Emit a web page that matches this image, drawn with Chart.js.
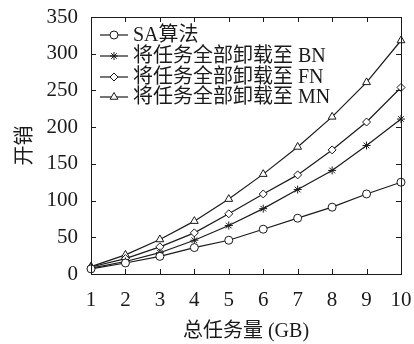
<!DOCTYPE html>
<html>
<head>
<meta charset="utf-8">
<script src="https://cdn.jsdelivr.net/npm/chart.js@4.4.0/dist/chart.umd.min.js"></script>
<style>
  html, body { margin: 0; padding: 0; background: #fff; }
  #wrap { width: 414px; height: 344px; }
</style>
</head>
<body>
<div id="wrap"><canvas id="c" width="414" height="344"></canvas></div>
<script>
// 数据
const taskSizes = [1, 2, 3, 4, 5, 6, 7, 8, 9, 10]
const saCost = [7, 15, 24, 36, 46, 61, 76, 91, 109, 125]
const bnCost = [8, 17, 29, 46, 66, 89, 115, 141, 175, 211]
const fnCost = [9.5, 21, 37, 56, 82, 109, 135, 169, 207, 254]
const mnCost = [10, 26, 47, 72, 102, 136, 173, 214, 261, 318]
const seriesNames = ["SA算法", "将任务全部卸载至 BN", "将任务全部卸载至 FN", "将任务全部卸载至 MN"]
const yTicks = [0, 50, 100, 150, 200, 250, 300, 350]

const FONT = "'Liberation Serif', 'DejaVu Serif', 'Noto Sans CJK SC', serif"
const INK = "#1a1a1a"

const markers = [
  { pointStyle: "circle", radius: 4, fill: "#fff" },
  { pointStyle: "star", radius: 4, fill: INK },
  { pointStyle: "rectRot", radius: 4, fill: "#fff" },
  { pointStyle: "triangle", radius: 4.5, fill: "#fff" },
]

const allSeries = [saCost, bnCost, fnCost, mnCost]

const datasets = allSeries.map((values, i) => ({
  label: seriesNames[i],
  data: values,
  borderColor: INK,
  borderWidth: 1.2,
  backgroundColor: markers[i].fill,
  pointStyle: markers[i].pointStyle,
  pointRadius: markers[i].radius,
  pointBorderWidth: 1,
  pointBorderColor: INK,
  pointBackgroundColor: markers[i].fill,
  tension: 0,
  clip: false,
}))

// 去掉刻度标签带来的额外留白，图区位置只由 layout.padding 决定
function noExtraPadding(scale) {
  scale.paddingLeft = 0
  scale.paddingRight = 0
  scale.paddingTop = 0
  scale.paddingBottom = 0
}

// 内向刻度 + 边框 + 图例
const framePlugin = {
  id: "frame",
  afterDraw(chart) {
    const ctx = chart.ctx
    const area = chart.chartArea
    const xs = chart.scales.x
    const ys = chart.scales.y
    const tick = 5

    ctx.save()
    ctx.strokeStyle = INK
    ctx.lineWidth = 1
    ctx.strokeRect(area.left + 0.5, area.top + 0.5, area.right - area.left, area.bottom - area.top)

    ctx.beginPath()
    taskSizes.forEach((v, i) => {
      const px = Math.round(xs.getPixelForValue(i)) + 0.5
      ctx.moveTo(px, area.bottom)
      ctx.lineTo(px, area.bottom - tick)
      ctx.moveTo(px, area.top)
      ctx.lineTo(px, area.top + tick)
    })
    yTicks.forEach((v) => {
      const py = Math.round(ys.getPixelForValue(v)) + 0.5
      ctx.moveTo(area.left, py)
      ctx.lineTo(area.left + tick, py)
      ctx.moveTo(area.right, py)
      ctx.lineTo(area.right - tick, py)
    })
    ctx.stroke()

    // 图例
    const lx = area.left + 9
    const rows = [35, 56, 77, 97]
    ctx.font = "20px " + FONT
    ctx.textBaseline = "middle"
    datasets.forEach((ds, i) => {
      const y = rows[i]
      ctx.strokeStyle = INK
      ctx.lineWidth = 1.2
      ctx.beginPath()
      ctx.moveTo(lx, y)
      ctx.lineTo(lx + 28, y)
      ctx.stroke()
      ctx.fillStyle = markers[i].fill
      ctx.strokeStyle = INK
      ctx.lineWidth = 1
      Chart.helpers.drawPoint(ctx, {
        pointStyle: markers[i].pointStyle,
        radius: markers[i].radius,
        borderWidth: 1,
        rotation: 0,
      }, lx + 14, y)
      ctx.fillStyle = INK
      ctx.fillText(ds.label, lx + 33, y + 1)
    })
    ctx.restore()
  },
}

new Chart(document.getElementById("c"), {
  type: "line",
  data: { labels: taskSizes, datasets: datasets },
  options: {
    responsive: false,
    animation: false,
    devicePixelRatio: 1,
    layout: { padding: { top: 17, right: 13, bottom: 0, left: 0 } },
    plugins: {
      legend: { display: false },
      tooltip: { enabled: false },
    },
    scales: {
      x: {
        offset: false,
        grid: { display: false, drawTicks: false },
        border: { display: false },
        ticks: {
          color: INK,
          font: { family: FONT, size: 21 },
          padding: 14,
          maxRotation: 0,
          autoSkip: false,
        },
        title: {
          display: true,
          text: "总任务量 (GB)",
          color: INK,
          font: { family: FONT, size: 20 },
          padding: { top: 8, bottom: 0 },
        },
        afterFit(scale) {
          scale.height = 70
          noExtraPadding(scale)
        },
      },
      y: {
        min: 0,
        max: 350,
        grid: { display: false, drawTicks: false },
        border: { display: false },
        ticks: {
          stepSize: 50,
          color: INK,
          font: { family: FONT, size: 21 },
          padding: 13,
        },
        title: {
          display: true,
          text: "开销",
          color: INK,
          font: { family: FONT, size: 20 },
          padding: { top: 14, bottom: 0 },
        },
        afterFit(scale) {
          scale.width = 91
          noExtraPadding(scale)
        },
      },
    },
  },
  plugins: [framePlugin],
})
</script>
</body>
</html>
